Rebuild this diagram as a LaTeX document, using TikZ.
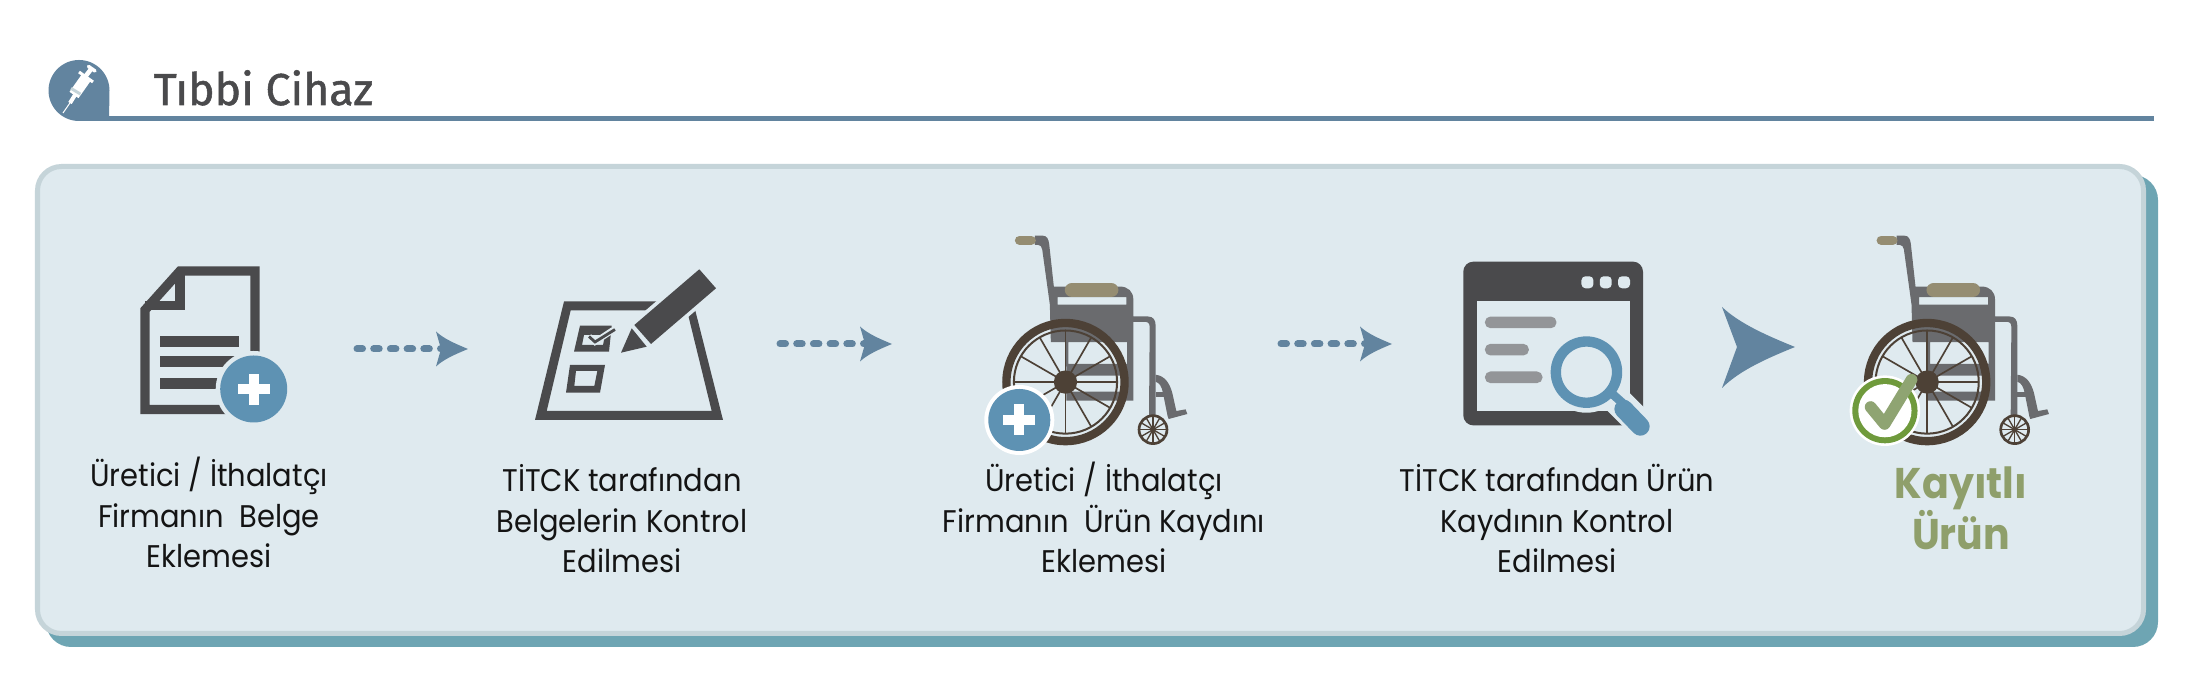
\documentclass[tikz,border=0pt]{standalone}
\usepackage{fontspec}
\setmainfont{Poppins}
\newfontfamily\stepfont[FakeStretch=0.925]{Poppins}
\newfontfamily\titlefont[FakeBold=1.2]{Fira Sans}
\newfontfamily\donefont[FakeStretch=0.92]{Poppins}
\newdimen\pxu \pxu=0.28453pt
\newdimen\zu \zu=0.09484pt
\definecolor{darkicon}{HTML}{4A4A4C}
\definecolor{badgeblue}{HTML}{5E92B3}
\definecolor{arrowblue}{HTML}{62849F}
\definecolor{panelfill}{HTML}{DFEAEF}
\definecolor{panelline}{HTML}{C5D4D9}
\definecolor{panelshadow}{HTML}{6EA5B3}
\definecolor{framegray}{HTML}{6A6B6E}
\definecolor{padtan}{HTML}{958D72}
\definecolor{wheeldark}{HTML}{4D4136}
\definecolor{greyline}{HTML}{939598}
\definecolor{tickgreen}{HTML}{6F9A3C}
\definecolor{ticksoft}{HTML}{8FA472}
\definecolor{donegreen}{HTML}{8F9F6B}
\tikzset{
 steplabel/.style={anchor=base,align=center,inner sep=0pt,text=black!92,
   font=\fontsize{8.9pt}{11.6pt}\selectfont\stepfont},
 donelabel/.style={anchor=base,align=center,inner sep=0pt,text=donegreen,
   font=\fontsize{12.2pt}{14.5pt}\selectfont\donefont\bfseries},
 dotline/.style={draw=arrowblue,line width=7\pxu,line cap=round,dash pattern=on 0.055cm off 0.112cm},
 zunits/.style={x=0.0033333cm,y=-0.0033333cm},
 arrowtip/.pic={
   \fill[arrowblue] (0,0) .. controls (-12,-5) and (-24,-10) .. (-32,-17.5)
      -- (-27,0) -- (-32,17.5) .. controls (-24,10) and (-12,5) .. (0,0) -- cycle;
 },
 bigarrowtip/.pic={
   \fill[arrowblue] (0,0) .. controls (-27,-11) and (-55,-23) .. (-73,-40)
      -- (-58,0) -- (-73,41) .. controls (-55,23) and (-27,11) .. (0,0) -- cycle;
 },
 wheelchair/.pic={
  \begin{scope}[zunits]
   \fill[framegray] (255,47) -- (278,47) .. controls (292,47) and (296,58) .. (298,72)
     -- (312,200) -- (510,200) .. controls (535,200) and (551,215) .. (551,240)
     -- (551,290) -- (595,290) .. controls (610,290) and (618,300) .. (618,318)
     -- (618,590) -- (598,590) -- (600,322) .. controls (600,310) and (595,306) .. (585,306)
     -- (551,306) -- (551,543) -- (350,543) -- (350,516) -- (532,516) -- (532,468)
     -- (350,468) -- (350,432) -- (532,432) -- (532,367) -- (356,367) -- (356,440) -- (346,440) -- (346,367)
     -- (303,367) -- (300,254) -- (530,254) -- (530,232) -- (323,232) -- (323,254) -- (300,254)
     -- (277,88) .. controls (275,80) and (272,75) .. (265,75) -- (255,75) -- cycle;
   \fill[framegray] (618,465) .. controls (645,468) and (660,490) .. (668,520)
     -- (680,574) -- (708,569) -- (713,583) -- (657,598) -- (654,590) -- (640,520)
     .. controls (636,500) and (630,490) .. (618,486) -- cycle;
   \fill[framegray] (618,517) rectangle (648,532);
   \draw[padtan,line width=28\zu,line cap=round] (209,61) -- (244,61);
   \draw[padtan,line width=44\zu,line cap=round] (367,210) -- (484,210);
   \draw[wheeldark,line width=25\zu] (347,487) circle (177.5);
   \draw[wheeldark,line width=6\zu] (347,487) circle (155);
   \foreach \a in {0,30,...,330}
     \draw[wheeldark,line width=5\zu] (347,487) -- ({347+155*cos(\a)},{487+155*sin(\a)});
   \fill[wheeldark] (347,487) circle (35);
   \draw[wheeldark,line width=8\zu] (610,630) circle (42);
   \foreach \a in {0,30,...,330}
     \draw[wheeldark,line width=4\zu] (610,630) -- ({610+42*cos(\a)},{630+42*sin(\a)});
   \fill[wheeldark] (610,630) circle (8);
  \end{scope}
 },
 plusmark/.pic={
   \fill[white] (-16,-5) rectangle (16,5);
   \fill[white] (-5,-15.5) rectangle (5,15.5);
 },
}
\begin{document}
\begin{tikzpicture}[x=0.01cm,y=-0.01cm]
\useasboundingbox (0,0) rectangle (2199,689);
\fill[white] (0,0) rectangle (2199,689);

% header
\fill[arrowblue] (109,121) -- (79,121) arc[start angle=90,end angle=360,radius=30.5] -- cycle;
\fill[arrowblue] (109,116) rectangle (2154,121);
\draw[white,line width=1\pxu] (63,113) -- (72,100);
\draw[white,line width=4\pxu] (70,103) -- (75,95);
\draw[white,line width=11\pxu] (74,95) -- (86,78);
\draw[panelline,line width=11\pxu] (75,92.5) -- (76.5,90);
\draw[white,line width=3\pxu] (79,72) -- (93,82);
\draw[white,line width=4.5\pxu] (85,77) -- (92,68);
\draw[white,line width=3.5\pxu,line cap=round] (88.5,66.5) -- (95,71);
\node[anchor=base west,inner sep=0pt,text=darkicon,font=\fontsize{12.7pt}{14pt}\selectfont\titlefont] (title) at (153,105) {Tıbbi Cihaz};

% panel
\fill[panelshadow,rounded corners=0.25cm] (46,175) rectangle (2158,647);
\draw[panelline,fill=panelfill,line width=5\pxu,rounded corners=0.24cm] (37.5,166.5) rectangle (2143.5,633.5);

% document icon
\draw[darkicon,line width=9.3\pxu,line join=miter]
  (255,360) -- (255,271) -- (180,271) -- (145,310) -- (145,409.5) -- (262,409.5);
\draw[darkicon,line width=9.3\pxu,line join=miter] (180,271) -- (180,305.5) -- (145,305.5);
\fill[darkicon] (160,336) rectangle (239,346.6);
\fill[darkicon] (160,356) rectangle (245,367);
\fill[darkicon] (160,378) rectangle (240,389);
\fill[panelfill] (253.7,389) circle (38);
\fill[badgeblue] (253.7,389) circle (33.5);
\pic at (254,389.5) {plusmark};

% form icon
\fill[darkicon,even odd rule] (564,301.5) -- (693,301.5) -- (723,420) -- (535,420) -- cycle
  (570.7,310.3) -- (687,310.3) -- (711.7,411) -- (546.7,411) -- cycle;
\fill[darkicon,even odd rule] (580,325.7) -- (611.7,325.7) -- (609,351.7) -- (574,351.7) -- cycle
  (584,335) -- (605,335) -- (603,345) -- (582,345) -- cycle;
\draw[panelfill,line width=6\pxu,line join=miter] (589,336.5) -- (595,342) -- (613,330);
\draw[darkicon,line width=2.8\pxu,line join=miter] (589,336.5) -- (595,342) -- (615,329.5);
\fill[darkicon,even odd rule] (570,365) -- (605,365) -- (600,392.7) -- (566,392.7) -- cycle
  (576,371) -- (597.3,371) -- (594.3,386) -- (574.3,386) -- cycle;
\filldraw[panelfill,line width=7.4\pxu,line join=miter] (699.3,269.3) -- (716,288.3) -- (651,344) -- (634.3,325) -- cycle;
\filldraw[panelfill,line width=7.4\pxu,line join=miter] (631.7,328.3) -- (646.7,346.7) -- (621,352.7) -- cycle;
\fill[darkicon] (699.3,269.3) -- (716,288.3) -- (651,344) -- (634.3,325) -- cycle;
\fill[darkicon] (631.7,328.3) -- (646.7,346.7) -- (621,352.7) -- cycle;

% first wheelchair and plus badge
\pic at (950,220) {wheelchair};
\fill[white] (1019.3,420) circle (35);
\fill[badgeblue] (1019.3,420) circle (31);
\pic at (1019.3,420) {plusmark};

% search window
\begin{scope}[shift={(1440,250)},zunits]
 \fill[darkicon,even odd rule,rounded corners=0.1cm] (70,35) rectangle (610,527);
 \fill[panelfill] (110,152) rectangle (570,485);
 \foreach \cx in {443,498,553}
   \fill[panelfill,rounded corners=0.04cm] (\cx-18,79) rectangle (\cx+18,115);
 \fill[greyline,rounded corners=0.055cm] (135,200) rectangle (350,235);
 \fill[greyline,rounded corners=0.055cm] (135,282) rectangle (267,317);
 \fill[greyline,rounded corners=0.055cm] (135,365) rectangle (308,400);
 \fill[panelfill] (440,367) circle (122);
 \draw[panelfill,line width=85\zu] (525,445) -- (625,545);
 \draw[badgeblue,line width=31\zu] (440,367) circle (92);
 \draw[badgeblue,line width=26\zu] (515,430) -- (560,470);
 \draw[badgeblue,line width=56\zu,line cap=round] (552,478) -- (602,530);
\end{scope}

% second wheelchair and tick badge
\pic at (1811.67,220) {wheelchair};
\begin{scope}[shift={(1830,220)},zunits]
 \fill[white] (165,573) circle (106);
 \fill[tickgreen] (165,573) circle (98);
 \fill[white] (165,573) circle (80);
 \draw[ticksoft,line width=35\zu,line cap=round,line join=round] (122,562) -- (164,613) -- (245,480);
\end{scope}

% connectors
\coordinate (a1s) at (357,349);
\coordinate (a1e) at (445,349);
\draw[dotline] (a1s) -- (a1e);
\pic at (468,349) {arrowtip};
\coordinate (a2s) at (780,344);
\coordinate (a2e) at (869,344);
\draw[dotline] (a2s) -- (a2e);
\pic at (892,344) {arrowtip};
\coordinate (a3s) at (1281,344);
\coordinate (a3e) at (1369,344);
\draw[dotline] (a3s) -- (a3e);
\pic at (1392,344) {arrowtip};
\pic at (1795,347) {bigarrowtip};

% labels
\node[steplabel] (t1) at (209,568) {Üretici / İthalatçı\\Firmanın\ \ Belge\\Eklemesi};
\node[steplabel] (t2) at (622,573) {TİTCK tarafından\\Belgelerin Kontrol\\Edilmesi};
\node[steplabel] (t3) at (1104,573) {Üretici / İthalatçı\\Firmanın\ \ Ürün Kaydını\\Eklemesi};
\node[steplabel] (t4) at (1557,573) {TİTCK tarafından Ürün\\Kaydının Kontrol\\Edilmesi};
\node[donelabel] (t5) at (1961,550) {Kayıtlı\\Ürün};
\end{tikzpicture}
\end{document}
